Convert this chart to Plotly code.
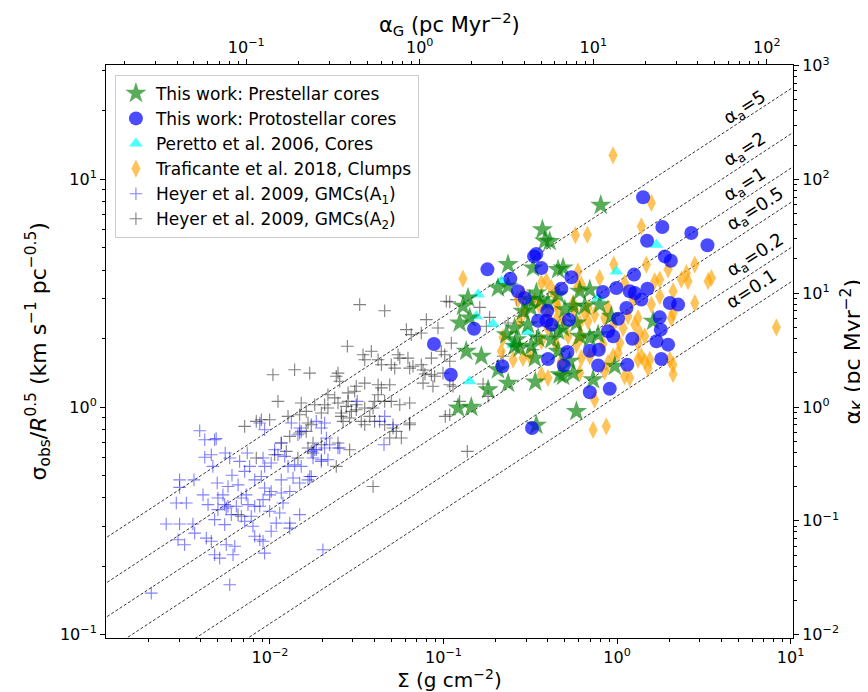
import numpy as np
import plotly.graph_objects as go

# ---------------- data (log10 values) ----------------
# This work: prestellar cores (stars)
pre_log_surf = [-0.094, -0.430, -0.388, -0.417, -0.628, -0.484, -0.340, -0.311, -0.628, -0.686,
                -0.465, -0.340, -0.859, -0.888, -0.215, -0.503, -0.436, -0.398, -0.542, -0.496,
                -0.301, -0.253, -0.186, -0.849, -0.907, -0.590, -0.513, -0.340, -0.311, -0.234,
                -0.638, -0.580, -0.455, -0.379, -0.215, -0.869, -0.782, -0.590, -0.561, -0.494,
                -0.340, -0.474, -0.273, -0.686, -0.628, -0.743, -0.916, -0.840, -0.471, -0.330,
                -0.311, -0.253, -0.234, -0.465, -0.157, -0.100, -0.033, -0.109, -0.157, 0.208,
                -0.013, -0.138]
pre_log_sig = [0.887, 0.779, 0.728, 0.730, 0.626, 0.611, 0.604, 0.611, 0.531, 0.523,
               0.501, 0.494, 0.479, 0.443, 0.509, 0.472, 0.472, 0.457, 0.421, 0.435,
               0.428, 0.443, 0.443, 0.391, 0.369, 0.347, 0.362, 0.333, 0.347, 0.369,
               0.318, 0.296, 0.303, 0.296, 0.311, 0.245, 0.223, 0.267, 0.259, 0.267,
               0.245, 0.215, 0.201, 0.164, 0.105, 0.076, -0.004, -0.001, 0.110, 0.142,
               0.135, 0.149, -0.019, -0.080, 0.516, 0.450, 0.399, 0.318, 0.303, 0.377,
               0.179, 0.120]

# This work: protostellar cores (circles)
pro_log_surf = [0.150, 0.261, 0.173, 0.428, 0.521, 0.275, 0.310, -0.478, -0.465, -0.436,
                -0.747, -0.615, -0.263, 0.098, -0.571, -0.532, -0.321, -0.081, -0.004, 0.073,
                0.102, 0.175, 0.140, 0.304, 0.352, 0.054, -0.402, -0.455, -0.407, -0.379,
                -0.277, 0.006, -0.824, 0.246, 0.252, -0.052, -0.023, 0.088, 0.227, 0.294,
                -1.055, -0.157, -0.105, -0.286, -0.398, -0.307, -0.109, 0.059, 0.255, -0.661,
                -0.958, -0.157, -0.042, -0.490]
pro_log_sig = [0.922, 0.791, 0.731, 0.765, 0.711, 0.662, 0.643, 0.662, 0.673, 0.611,
               0.605, 0.564, 0.570, 0.582, 0.509, 0.479, 0.520, 0.506, 0.523, 0.509,
               0.501, 0.520, 0.472, 0.457, 0.450, 0.435, 0.423, 0.379, 0.379, 0.362,
               0.384, 0.388, 0.344, 0.394, 0.340, 0.333, 0.311, 0.300, 0.289, 0.274,
               0.277, 0.247, 0.252, 0.242, 0.211, 0.183, 0.183, 0.186, 0.211, 0.179,
               0.142, 0.065, 0.080, -0.092]

# Peretto et al. 2006 cores (triangles)
per_log_surf = [0.227, -0.004, -0.667, -0.801, -0.811, -0.715, -0.517, -0.599, -0.849, -0.109]
per_log_sig = [0.713, 0.596, 0.553, 0.494, 0.399, 0.365, 0.330, 0.274, 0.113, 0.479]

# Traficante et al. 2018 clumps (diamonds)
tra_log_surf = [-0.023, 0.198, 0.140, -0.240, -0.171, 0.169, -0.019, -0.888, 0.448, 0.400,
                0.371, 0.525, 0.544, 0.246, 0.217, -0.100, -0.206, 0.323, 0.448, 0.918,
                0.323, -0.138, -0.062, -0.657, -0.542, -0.436, -0.398, 0.140, 0.160, 0.179,
                -0.071, 0.044, 0.294, 0.409, 0.092, 0.246, 0.198, 0.063, 0.121, 0.102,
                -0.167, -0.129, -0.167, -0.071, 0.323, 0.313, 0.160, 0.035, 0.131, 0.016,
                0.006, -0.157, 0.121, 0.189, 0.304, 0.121, -0.023, -0.052, 0.323, -0.225,
                -0.407, -0.436, -0.379, -0.359, -0.225, -0.542, -0.571, -0.474, -0.446, -0.350,
                -0.340, -0.253, -0.244, -0.186, -0.532, -0.398, -0.350, -0.311, -0.215, -0.561,
                -0.398, -0.282, -0.206, -0.436, -0.350, -0.234, -0.667, -0.503, -0.206, -0.321,
                -0.599, -0.215, -0.129, 0.044, 0.073, -0.052, -0.023, -0.081]
tra_log_sig = [1.106, 0.897, 0.794, 0.755, 0.757, 0.626, 0.626, 0.564, 0.626, 0.589,
               0.560, 0.553, 0.567, 0.560, 0.553, 0.567, 0.538, 0.509, 0.457, 0.350,
               0.145, -0.100, -0.085, 0.306, 0.215, 0.142, 0.127, 0.223, 0.201, 0.171,
               0.157, 0.545, 0.604, 0.553, 0.472, 0.487, 0.450, 0.399, 0.391, 0.362,
               0.435, 0.406, 0.377, 0.391, 0.413, 0.391, 0.311, 0.347, 0.325, 0.281,
               0.237, 0.223, 0.281, 0.208, 0.208, 0.208, 0.223, 0.193, 0.186, 0.596,
               0.553, 0.545, 0.523, 0.494, 0.531, 0.494, 0.472, 0.465, 0.443, 0.457,
               0.435, 0.457, 0.428, 0.413, 0.421, 0.406, 0.384, 0.384, 0.369, 0.377,
               0.347, 0.311, 0.311, 0.289, 0.274, 0.274, 0.245, 0.223, 0.215, 0.201,
               0.208, 0.149, 0.032, 0.135, 0.127, 0.435, 0.356, 0.277]

# Heyer et al. 2009 GMCs (A1) (blue pluses)
a1_log_surf = [-2.405, -2.376, -2.319, -2.310, -2.376, -2.338, -2.258, -2.232, -2.329, -2.521,
               -2.521, -2.438, -2.304, -2.131, -2.175, -2.117, -2.146, -2.219, -2.184, -2.242,
               -2.088, -2.050, -2.031, -2.059, -2.031, -1.877, -1.829, -1.820, -1.839, -1.733,
               -1.685, -1.704, -1.935, -1.973, -1.954, -1.915, -2.040, -2.031, -1.993, -1.896,
               -1.858, -1.820, -1.762, -1.733, -1.685, -1.656, -1.608, -1.704, -1.666, -1.781,
               -1.762, -1.935, -1.867, -1.829, -1.993, -1.935, -1.886, -2.040, -2.002, -1.925,
               -2.540, -2.482, -2.386, -2.357, -2.300, -2.271, -2.261, -2.242, -2.194, -2.165,
               -2.137, -2.127, -2.088, -2.059, -2.300, -2.252, -2.223, -2.165, -2.108, -2.002,
               -1.944, -2.598, -2.521, -2.444, -2.319, -2.261, -2.146, -2.098, -1.964, -1.886,
               -1.886, -2.434, -2.530, -2.492, -2.367, -2.338, -2.088, -2.059, -2.040, -1.993,
               -2.252, -2.203, -2.319, -2.290, -2.213, -2.031, -1.695, -2.232, -2.684, -1.829,
               -1.339, -1.291, -1.343, -1.497, -1.368, -1.675, -1.742, -1.598, -1.752, -1.704,
               -1.771]
a1_log_sig = [-0.104, -0.144, -0.144, -0.139, -0.221, -0.210, -0.202, -0.224, -0.261, -0.320,
              -0.353, -0.320, -0.334, -0.202, -0.239, -0.261, -0.283, -0.300, -0.342, -0.349,
              -0.320, -0.305, -0.356, -0.070, -0.100, -0.070, -0.092, -0.107, -0.122, -0.063,
              -0.070, -0.092, -0.158, -0.188, -0.210, -0.217, -0.224, -0.261, -0.246, -0.261,
              -0.254, -0.261, -0.195, -0.188, -0.180, -0.166, -0.180, -0.232, -0.232, -0.320,
              -0.305, -0.320, -0.312, -0.334, -0.371, -0.378, -0.371, -0.407, -0.386, -0.422,
              -0.422, -0.422, -0.386, -0.429, -0.400, -0.386, -0.429, -0.436, -0.436, -0.400,
              -0.386, -0.429, -0.436, -0.436, -0.451, -0.444, -0.473, -0.480, -0.480, -0.458,
              -0.466, -0.514, -0.514, -0.514, -0.495, -0.517, -0.502, -0.524, -0.510, -0.510,
              -0.532, -0.554, -0.583, -0.605, -0.576, -0.590, -0.568, -0.583, -0.590, -0.546,
              -0.605, -0.612, -0.649, -0.664, -0.649, -0.642, -0.627, -0.781, -0.818, -0.473,
              -0.041, -0.078, -0.166, 0.025, -0.063, -0.136, -0.188, -0.180, -0.224, -0.239,
              -0.305]

# Heyer et al. 2009 GMCs (A2) (grey pluses)
a2_log_surf = [-1.483, -1.339, -1.099, -1.214, -1.186, -1.032, -0.984, -1.554, -1.464, -1.416,
               -1.454, -1.377, -1.358, -1.262, -1.252, -1.205, -1.195, -1.281, -1.301, -1.118,
               -1.107, -1.070, -1.051, -1.003, -1.118, -1.061, -1.983, -1.858, -1.771, -1.608,
               -1.618, -1.598, -1.503, -1.454, -1.512, -1.550, -1.377, -1.358, -1.310, -1.377,
               -1.397, -1.339, -1.301, -1.252, -1.195, -1.666, -1.627, -1.685, -1.608, -1.550,
               -1.503, -1.954, -1.820, -1.742, -1.791, -1.896, -1.829, -1.704, -1.666, -1.589,
               -1.560, -1.531, -1.503, -1.454, -1.406, -1.425, -1.589, -1.579, -1.541, -1.474,
               -1.454, -1.397, -1.339, -1.291, -1.272, -1.243, -1.310, -1.195, -0.990, -2.146,
               -2.079, -2.050, -2.002, -1.781, -1.791, -1.829, -1.886, -1.762, -1.752, -1.704,
               -1.781, -1.752, -1.608, -1.541, -1.935, -1.906, -1.839, -2.079, -1.973, -1.618,
               -1.406, -2.184, -0.964, -0.791, -0.734, -0.753, -0.628, -0.580, -0.551, -0.955,
               -0.465, -0.359, -0.657, -0.964, -1.128, -1.013, -1.070, -0.993, -1.176, -1.128,
               -1.195, -0.863, -0.964, -0.945, -0.772, -0.743, -0.907, -0.964, -0.484]
a2_log_sig = [0.450, 0.423, 0.384, 0.340, 0.318, 0.347, 0.465, 0.267, 0.230, 0.245,
              0.208, 0.208, 0.186, 0.230, 0.215, 0.215, 0.171, 0.171, 0.186, 0.163,
              0.145, 0.142, 0.135, 0.149, 0.105, 0.091, 0.142, 0.164, 0.149, 0.149,
              0.135, 0.113, 0.091, 0.105, 0.069, 0.062, 0.098, 0.084, 0.098, 0.054,
              0.025, 0.025, 0.025, 0.010, 0.018, 0.054, 0.040, 0.010, 0.018, 0.025,
              0.010, 0.025, 0.018, 0.010, -0.019, -0.041, -0.034, -0.026, -0.004, -0.026,
              0.003, -0.019, -0.012, -0.004, -0.004, -0.041, -0.041, -0.063, -0.048, -0.063,
              -0.078, -0.063, -0.078, -0.092, -0.107, -0.136, -0.136, -0.078, -0.041, -0.085,
              -0.063, -0.056, -0.056, -0.070, -0.107, -0.114, -0.129, -0.078, -0.158, -0.166,
              -0.180, -0.202, -0.158, -0.188, -0.158, -0.195, -0.224, -0.224, -0.210, -0.261,
              -0.349, -0.473, 0.462, 0.438, 0.394, 0.355, 0.369, 0.472, 0.399, 0.281,
              0.311, 0.311, 0.223, 0.201, 0.325, 0.245, 0.215, 0.230, 0.179, 0.186,
              -0.070, -0.195, 0.098, 0.091, 0.101, 0.047, 0.025, -0.034, 0.252]

# reference virial lines and their labels
alpha_values = [5, 2, 1, 0.5, 0.2, 0.1]
alpha_labels = ["α<sub>a</sub>=5", "α<sub>a</sub>=2", "α<sub>a</sub>=1",
                "α<sub>a</sub>=0.5", "α<sub>a</sub>=0.2", "α=0.1"]
label_log_x = [0.738, 0.738, 0.738, 0.795, 0.795, 0.772]
label_log_y = [1.314, 1.130, 0.976, 0.866, 0.664, 0.523]
LINE_COEF = 12.5          # sigma^2/R = alpha * LINE_COEF * Sigma
TOP_LOG_OFFSET = 1.137    # log10(alpha_G / Sigma)

X_RANGE = [-2.945, 1.014]
Y_RANGE = [-1.015, 1.503]

# axis titles
x_title = "Σ (g cm<sup>\u22122</sup>)"
y_title = "σ<sub>obs</sub>/<i>R</i><sup>0.5</sup> (km s<sup>\u22121</sup> pc<sup>\u22120.5</sup>)"
x2_title = "α<sub>G</sub> (pc Myr<sup>\u22122</sup>)"
y2_title = "α<sub>K</sub> (pc Myr<sup>\u22122</sup>)"

FONT = "DejaVu Sans"
TICK_SIZE = 16
TITLE_SIZE = 22

def p(v):
    return np.power(10.0, np.array(v, dtype=float))

fig = go.Figure()

# guide lines
xl = p([-3.3, 1.3])
for a in alpha_values:
    fig.add_trace(go.Scatter(x=xl, y=np.sqrt(a * LINE_COEF * xl), mode="lines",
                             line=dict(color="black", width=0.8, dash="3px,2px"),
                             showlegend=False, hoverinfo="skip"))

fig.add_trace(go.Scatter(x=p(a2_log_surf), y=p(a2_log_sig), mode="markers",
                         name="Heyer et al. 2009, GMCs(A<sub>2</sub>)", legendrank=6,
                         marker=dict(symbol="cross-thin", size=9,
                                     line=dict(color="rgba(0,0,0,0.5)", width=1.1))))
fig.add_trace(go.Scatter(x=p(a1_log_surf), y=p(a1_log_sig), mode="markers",
                         name="Heyer et al. 2009, GMCs(A<sub>1</sub>)", legendrank=5,
                         marker=dict(symbol="cross-thin", size=9,
                                     line=dict(color="rgba(0,0,255,0.5)", width=1.1))))
fig.add_trace(go.Scatter(x=p(tra_log_surf), y=p(tra_log_sig), mode="markers",
                         name="Traficante et al. 2018, Clumps", legendrank=4,
                         marker=dict(symbol="diamond-tall", size=13,
                                     color="rgba(255,165,0,0.65)", line=dict(width=0))))
fig.add_trace(go.Scatter(x=p(per_log_surf), y=p(per_log_sig), mode="markers",
                         name="Peretto et al. 2006, Cores", legendrank=3,
                         marker=dict(symbol="triangle-up", size=12,
                                     color="rgba(0,255,255,0.7)", line=dict(width=0))))
fig.add_trace(go.Scatter(x=p(pre_log_surf), y=p(pre_log_sig), mode="markers",
                         name="This work: Prestellar cores", legendrank=1,
                         marker=dict(symbol="star", size=16,
                                     color="rgba(0,128,0,0.65)", line=dict(width=0))))
fig.add_trace(go.Scatter(x=p(pro_log_surf), y=p(pro_log_sig), mode="markers",
                         name="This work: Protostellar cores", legendrank=2,
                         marker=dict(symbol="circle", size=14,
                                     color="rgba(0,0,255,0.7)", line=dict(width=0))))

# invisible trace to activate the secondary (top/right) axes
fig.add_trace(go.Scatter(x=[1.0], y=[1.0], xaxis="x2", yaxis="y2", mode="markers",
                         marker=dict(opacity=0), showlegend=False, hoverinfo="skip"))

for lab, lx, ly in zip(alpha_labels, label_log_x, label_log_y):
    fig.add_annotation(x=lx, y=ly, xref="x", yref="y", text=lab, showarrow=False,
                       textangle=-33, font=dict(family=FONT, size=18, color="black"))

# axis titles placed as annotations (paper coordinates)
title_font = dict(family=FONT, size=TITLE_SIZE, color="black")
fig.add_annotation(x=0.5, y=-0.072, xref="paper", yref="paper", text=x_title,
                   showarrow=False, xanchor="center", yanchor="middle",
                   font=dict(family=FONT, size=20, color="black"))
fig.add_annotation(x=0.5, y=1.071, xref="paper", yref="paper", text=x2_title,
                   showarrow=False, xanchor="center", yanchor="middle",
                   font=dict(family=FONT, size=21, color="black"))
fig.add_annotation(x=-0.099, y=0.5, xref="paper", yref="paper", text=y_title,
                   showarrow=False, xanchor="center", yanchor="middle", textangle=-90,
                   font=title_font)
fig.add_annotation(x=1.086, y=0.5, xref="paper", yref="paper", text=y2_title,
                   showarrow=False, xanchor="center", yanchor="middle", textangle=-90,
                   font=title_font)

def decade_ticks(lo, hi):
    major, text, minor = [], [], []
    for e in range(int(np.floor(lo)), int(np.ceil(hi)) + 1):
        if lo - 1e-6 <= e <= hi + 1e-6:
            major.append(10.0 ** e)
            text.append("10<sup>" + (str(e) if e >= 0 else "\u2212" + str(-e)) + "</sup>")
        for m in range(2, 10):
            v = np.log10(m) + e
            if lo <= v <= hi:
                minor.append(m * 10.0 ** e)
    return major, text, minor

def axis_style(rng, **kw):
    major, text, minor = decade_ticks(*rng)
    d = dict(type="log", range=rng, showline=True, linecolor="black", linewidth=1,
             ticks="outside", ticklen=5, tickwidth=1, tickcolor="black",
             tickmode="array", tickvals=major, ticktext=text,
             minor=dict(tickmode="array", tickvals=minor, ticks="outside", ticklen=3,
                        tickwidth=0.8, tickcolor="black", showgrid=False),
             showgrid=False, zeroline=False, automargin=False,
             tickfont=dict(family=FONT, size=TICK_SIZE, color="black"))
    d.update(kw)
    return d

x2_range = [X_RANGE[0] + TOP_LOG_OFFSET, X_RANGE[1] + TOP_LOG_OFFSET]
y2_range = [2 * Y_RANGE[0], 2 * Y_RANGE[1]]

fig.update_layout(
    width=868, height=692,
    margin=dict(l=98, r=83, t=57, b=62),
    paper_bgcolor="white", plot_bgcolor="white",
    font=dict(family=FONT, color="black"),
    xaxis=axis_style(X_RANGE, anchor="y", side="bottom"),
    yaxis=axis_style(Y_RANGE, anchor="x", side="left"),
    xaxis2=axis_style(x2_range, overlaying="x", side="top", anchor="y"),
    yaxis2=axis_style(y2_range, overlaying="y", side="right", anchor="x"),
    legend=dict(x=0.013, y=0.983, xanchor="left", yanchor="top",
                bgcolor="white", bordercolor="#cccccc", borderwidth=1,
                font=dict(family=FONT, size=17, color="black"),
                traceorder="normal"),
    showlegend=True,
)

fig.write_html("out.html")
